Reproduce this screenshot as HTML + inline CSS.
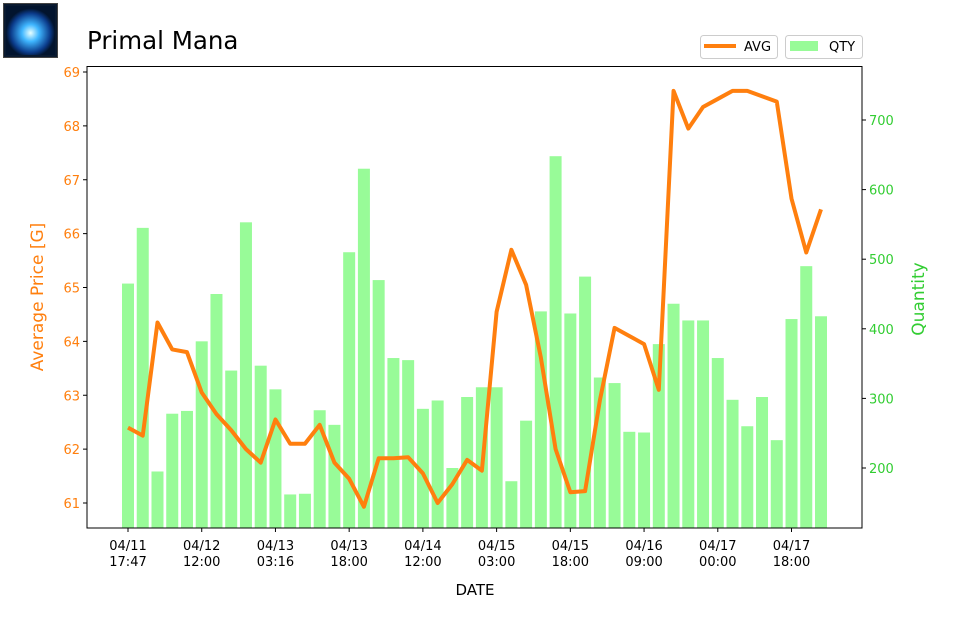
<!DOCTYPE html>
<html><head><meta charset="utf-8"><style>
body{margin:0;background:#fff;font-family:"DejaVu Sans","Liberation Sans",sans-serif}
</style></head><body>
<svg id="chart" width="958" height="627" xmlns="http://www.w3.org/2000/svg" font-family="DejaVu Sans, Liberation Sans, sans-serif">
<defs><radialGradient id="orb" cx="50%" cy="55%" r="50%"><stop offset="0" stop-color="#e8ffff"/><stop offset="0.35" stop-color="#3fb6ff"/><stop offset="0.8" stop-color="#0b3b8a"/><stop offset="1" stop-color="#02142e"/></radialGradient></defs>
<g><rect x="3.5" y="3.5" width="54" height="54" fill="#0a1a30" stroke="#444"/><rect x="6" y="6" width="49" height="49" fill="url(#orb)"/></g>
<text x="87" y="49" font-size="24.5">Primal Mana</text>
<g id="bars"></g><g id="line"></g>
<rect x="87" y="66.5" width="775" height="461.5" fill="none" stroke="#000"/>
<g id="axes" font-size="13"></g>
<text transform="translate(43,297) rotate(-90)" text-anchor="middle" font-size="17" fill="#ff7f0e">Average Price [G]</text>
<text transform="translate(924,299) rotate(-90)" text-anchor="middle" font-size="17" fill="#32cd32">Quantity</text>
<text x="475" y="595" text-anchor="middle" font-size="15">DATE</text>
<g>
<g><rect x="700.5" y="35.5" width="77" height="23" rx="3" fill="#fff" stroke="#ccc"/><line x1="704" y1="46" x2="736" y2="46" stroke="#ff7f0e" stroke-width="4"/><text x="744" y="51" font-size="13">AVG</text></g>
<g><rect x="785.5" y="35.5" width="77" height="23" rx="3" fill="#fff" stroke="#ccc"/><rect x="790" y="41" width="28" height="10" fill="#98fb98"/><text x="829" y="51" font-size="13">QTY</text></g>
</g>
</svg>
<script>
const qty=[465,545,195,278,282,382,450,340,553,347,313,162,163,283,262,510,630,470,358,355,285,297,200,302,316,316,181,268,425,648,422,475,330,322,252,251,378,436,412,412,358,298,260,302,240,414,490,418];
const avg=[62.4,62.25,64.35,63.85,63.8,63.05,62.65,62.35,62.0,61.75,62.55,62.1,62.1,62.45,61.75,61.45,60.93,61.83,61.83,61.85,61.55,61.0,61.35,61.8,61.6,64.55,65.7,65.05,63.7,62.0,61.2,61.22,62.9,64.25,64.1,63.95,63.1,68.65,67.95,68.35,68.5,68.65,68.65,68.55,68.45,66.65,65.65,66.45];
const xTickLabels=[["04/11","17:47"],["04/12","12:00"],["04/13","03:16"],["04/13","18:00"],["04/14","12:00"],["04/15","03:00"],["04/15","18:00"],["04/16","09:00"],["04/17","00:00"],["04/17","18:00"]];
const yTicks=[61,62,63,64,65,66,67,68,69];
const y2Ticks=[200,300,400,500,600,700];
const NS="http://www.w3.org/2000/svg";
const xs=i=>128+i*(821-128)/(qty.length-1);
const ys=v=>503-(v-61)*53.875;
const yq=v=>468-(v-200)*0.696;
const bw=12;
function mk(t,a,p){const e=document.createElementNS(NS,t);for(const k in a)e.setAttribute(k,a[k]);p.appendChild(e);return e;}
const bars=document.getElementById('bars');
qty.forEach((q,i)=>{const top=yq(q);const r=mk('rect',{x:xs(i)-bw/2,y:top,width:bw,height:Math.max(0,528-top),fill:'#98fb98'},bars);

});
const ln=document.getElementById('line');
const p=mk('polyline',{points:avg.map((v,i)=>xs(i)+','+ys(v)).join(' '),fill:'none',stroke:'#ff7f0e','stroke-width':4,'stroke-linejoin':'round'},ln);


const ax=document.getElementById('axes');
yTicks.forEach(v=>{const y=ys(v);mk('line',{x1:83,x2:87,y1:y,y2:y,stroke:'#000'},ax);const t=mk('text',{x:80,y:y+5,'text-anchor':'end',fill:'#ff7f0e'},ax);t.textContent=v;

});
y2Ticks.forEach(v=>{const y=yq(v);mk('line',{x1:862,x2:866,y1:y,y2:y,stroke:'#000'},ax);const t=mk('text',{x:869,y:y+5,fill:'#32cd32'},ax);t.textContent=v;

});
xTickLabels.forEach((l,k)=>{const x=xs(k*5);mk('line',{x1:x,x2:x,y1:528,y2:532,stroke:'#000'},ax);const t=mk('text',{x:x,y:550,'text-anchor':'middle'},ax);t.textContent=l[0];


const t2=mk('text',{x:x,y:566,'text-anchor':'middle'},ax);t2.textContent=l[1];

});
</script>
</body></html>
